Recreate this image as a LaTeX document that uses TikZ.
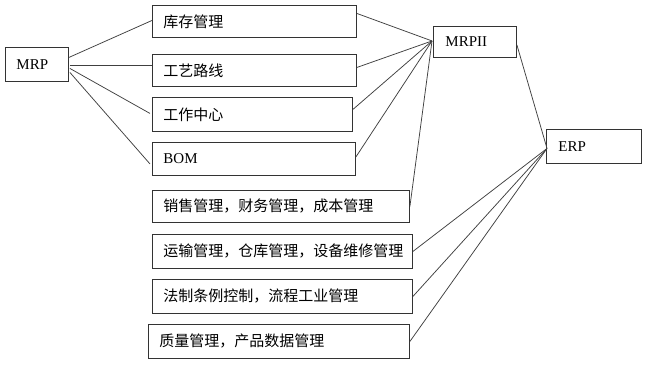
\documentclass[tikz,border=0pt]{standalone}
\usepackage{fontspec}
\setmainfont{Liberation Serif}
\newfontfamily\cjk{Noto Sans CJK SC}
\usetikzlibrary{calc}
\begin{document}
\begin{tikzpicture}[x=1pt,y=-1pt,
  box/.style={draw=black!80,line width=0.9pt,anchor=north west,inner xsep=11pt,inner ysep=0pt,align=left,font=\cjk\fontsize{15}{17}\selectfont},
  ebox/.style={box,font=\fontsize{15}{17}\selectfont},
  con/.style={draw=black!75,line width=0.75pt}]
\useasboundingbox[fill=white] (0,0) rectangle (647,364);
\node[ebox,text width=41pt,minimum height=34pt] (mrp) at (5,47) {MRP};
\node[box,text width=182pt,minimum height=32pt] (kc) at (152,5) {库存管理};
\node[box,text width=182pt,minimum height=32pt] (gy) at (152,54) {工艺路线};
\node[box,text width=178pt,minimum height=34pt] (gz) at (152,97) {工作中心};
\node[ebox,text width=181pt,minimum height=33pt] (bom) at (152,142) {BOM};
\node[box,text width=235pt,minimum height=32pt] (xs) at (152,190) {销售管理，财务管理，成本管理};
\node[box,text width=238pt,minimum height=34pt] (ys) at (152,234) {运输管理，仓库管理，设备维修管理};
\node[box,text width=238pt,minimum height=34pt] (fz) at (152,279) {法制条例控制，流程工业管理};
\node[box,text width=239pt,minimum height=34pt] (zl) at (148,324) {质量管理，产品数据管理};
\node[ebox,text width=59pt,minimum height=31pt,inner xsep=12pt] (mrpii) at (433,26) {MRPII};
\node[ebox,text width=71pt,minimum height=34pt,inner xsep=12pt] (erp) at (546,129) {ERP};
% MRP to modules
\draw[con] ($(mrp.east)+(0,-7)$) -- ($(kc.west)+(0,-1)$);
\draw[con] ($(mrp.east)+(1,1)$) -- ($(gy.west)+(0,-5)$);
\draw[con] ($(mrp.east)+(1,4)$) -- ($(gz.west)+(-2,-1)$);
\draw[con] ($(mrp.east)+(1,8)$) -- ($(bom.west)+(-2,5)$);
% modules to MRPII
\draw[con] ($(kc.east)+(0,-8)$) -- ($(mrpii.west)+(-1,-1)$);
\draw[con] ($(gy.east)+(0,-3)$) -- ($(mrpii.west)+(-1,-1)$);
\draw[con] ($(gz.east)+(0,-5)$) -- ($(mrpii.west)+(-1,-1)$);
\draw[con] ($(bom.east)+(0,-2)$) -- ($(mrpii.west)+(-1,-1)$);
\draw[con] ($(xs.east)+(0,0)$) -- ($(mrpii.west)+(-1,-1)$);
% MRPII to ERP
\draw[con] ($(mrpii.east)+(0,3)$) -- ($(erp.west)+(1,2)$);
% modules to ERP
\draw[con] (ys.east) -- ($(erp.west)+(1,2)$);
\draw[con] (fz.east) -- ($(erp.west)+(1,2)$);
\draw[con] (zl.east) -- ($(erp.west)+(1,2)$);
\end{tikzpicture}
\end{document}
